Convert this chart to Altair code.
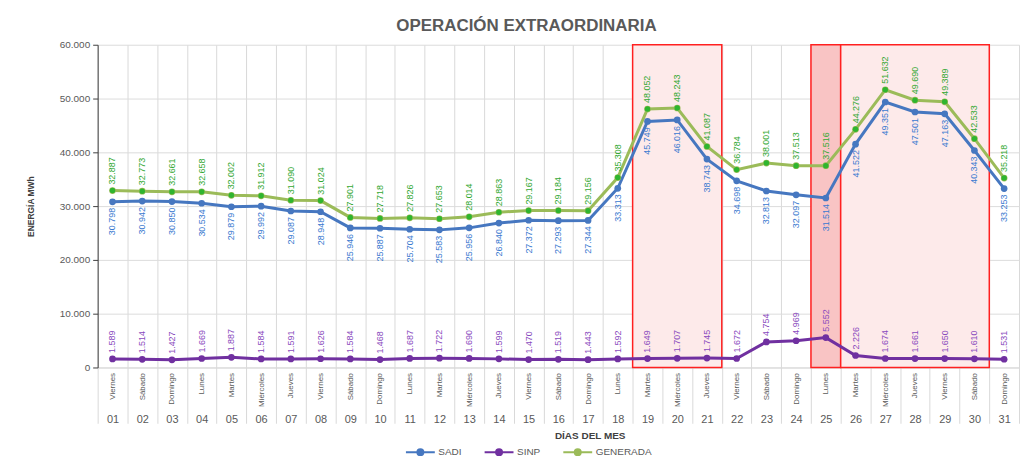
import altair as alt
import pandas as pd

# ---------------- data ----------------
days = list(range(1, 32))
day_names = ["Viernes", "Sábado", "Domingo", "Lunes", "Martes", "Miércoles", "Jueves",
             "Viernes", "Sábado", "Domingo", "Lunes", "Martes", "Miércoles", "Jueves",
             "Viernes", "Sábado", "Domingo", "Lunes", "Martes", "Miércoles", "Jueves",
             "Viernes", "Sábado", "Domingo", "Lunes", "Martes", "Miércoles", "Jueves",
             "Viernes", "Sábado", "Domingo"]
sadi = [30798, 30942, 30850, 30534, 29879, 29992, 29087, 28948, 25946, 25887,
        25704, 25583, 25956, 26840, 27372, 27293, 27344, 33313, 45749, 46016,
        38743, 34698, 32813, 32097, 31514, 41522, 49351, 47501, 47163, 40343, 33253]
sinp = [1589, 1514, 1427, 1669, 1887, 1584, 1591, 1626, 1584, 1468,
        1687, 1722, 1690, 1599, 1470, 1519, 1443, 1592, 1649, 1707,
        1745, 1672, 4754, 4969, 5552, 2226, 1674, 1661, 1650, 1610, 1531]
generada = [32887, 32773, 32661, 32658, 32002, 31912, 31090, 31024, 27901, 27718,
            27826, 27653, 28014, 28863, 29167, 29184, 29156, 35308, 48052, 48243,
            41087, 36784, 38001, 37513, 37516, 44276, 51632, 49690, 49389, 42533, 35218]
series_names = ["SADI", "SINP", "GENERADA"]
hl_start = [19, 25, 26]
hl_end = [21, 25, 30]
hl_kind = ["claro", "oscuro", "claro"]

rows = []
for name, vals in zip(series_names, [sadi, sinp, generada]):
    for d, v in zip(days, vals):
        rows.append({"day": d, "series": name, "value": v,
                     "label": f"{v:,}".replace(",", ".")})
df = pd.DataFrame(rows)
hl = pd.DataFrame({"x0": [s - 0.5 for s in hl_start], "x1": [e + 0.5 for e in hl_end],
                   "kind": hl_kind, "y0": [0] * 3, "y1": [60000] * 3})

REG = "Liberation Sans, Arial, sans-serif"
GREY = "#595959"

XS = alt.Scale(domain=[0.5, 31.5], nice=False, zero=False)
YS = alt.Scale(domain=[0, 60000], nice=False)
YAX = alt.Axis(values=list(range(0, 60001, 10000)),
               labelExpr="replace(format(datum.value, ','), ',', '.')",
               labelFont=REG, labelFontSize=10, labelColor=GREY, labelPadding=3,
               grid=True, gridColor="#dcdcdc", domainColor="#404040", tickColor="#404040",
               tickSize=5, title="ENERGÍA MWh", titleFont=REG, titleFontSize=8.5,
               titleFontWeight="bold", titleColor="#404040", titlePadding=24)

names_expr = "[" + ",".join(f"'{n}'" for n in day_names) + "][datum.value - 1]"

ax_grid = alt.Axis(orient="bottom", values=[d - 0.5 for d in days] + [31.5], grid=True,
                   gridColor="#d9d9d9", ticks=True, tickSize=56, tickColor="#d9d9d9",
                   labels=False, domain=True, domainColor="#d9d9d9", title=None)
ax_names = alt.Axis(orient="bottom", values=days, labelExpr=names_expr, labelAngle=270,
                    labelAlign="right", labelBaseline="middle", labelFont=REG,
                    labelFontSize=8, labelColor=GREY, labelPadding=5, labelOverlap=False,
                    ticks=False, domain=False, grid=False, title=None)
ax_nums = alt.Axis(orient="bottom", values=days,
                   labelExpr="datum.value < 10 ? '0' + datum.value : '' + datum.value",
                   labelFont=REG, labelFontSize=11, labelColor=GREY, labelPadding=2,
                   labelOverlap=False, offset=44, ticks=False, domain=False, grid=False,
                   title="DÍAS DEL MES", titleFont=REG, titleFontSize=10,
                   titleFontWeight="bold", titleColor="#404040", titlePadding=6,
                   titleX=494)

def X(axis=None):
    return alt.X("day:Q", scale=XS, axis=axis)

Yv = alt.Y("value:Q", scale=YS, axis=YAX)

rects = alt.Chart(hl).mark_rect(stroke="#ff2020", strokeWidth=1.5).encode(
    x=alt.X("x0:Q", scale=XS, axis=ax_grid), x2="x1:Q",
    y=alt.Y("y0:Q", scale=YS, axis=YAX), y2="y1:Q",
    fill=alt.Fill("kind:N", scale=alt.Scale(domain=["claro", "oscuro"],
                                            range=["#fdeaea", "#f9c4c4"]), legend=None),
)

line_colors = alt.Scale(domain=series_names, range=["#4677c0", "#7030a0", "#9bbb59"])

legend = alt.Legend(title=None, orient="none", legendX=313, legendY=398, direction="horizontal",
                    symbolType="M-1.45,0H1.45M0.3,0A0.3,0.3,0,1,1,-0.3,0A0.3,0.3,0,1,1,0.3,0Z",
                    symbolSize=400, symbolStrokeWidth=2, labelFont=REG, labelFontSize=10,
                    labelColor=GREY, columnPadding=18, labelOffset=7)

Cenc = alt.Color("series:N", scale=line_colors, legend=legend, sort=series_names)

lines = alt.Chart(df).mark_line(strokeWidth=3).encode(
    x=X(ax_names), y=Yv, color=Cenc, detail="series:N",
)

points = alt.Chart(df).mark_point(filled=True, size=45, opacity=1).encode(
    x=X(ax_nums), y=Yv, color=Cenc,
)

gen_points = alt.Chart(df).transform_filter(alt.datum.series == "GENERADA").mark_point(
    filled=True, size=30, opacity=1, color="#2fb52f").encode(x=X(), y=Yv)

def labels(series, color, align, dx):
    return alt.Chart(df).transform_filter(alt.datum.series == series).mark_text(
        angle=270, align=align, baseline="middle", dx=dx, font=REG, fontSize=9, color=color
    ).encode(x=X(), y=Yv, text="label:N")

chart = alt.layer(
    rects, lines, points, gen_points,
    labels("GENERADA", "#33a833", "left", 6),
    labels("SADI", "#3a7ad0", "right", -6),
    labels("SINP", "#8a4cbe", "left", 6),
).resolve_scale(x="independent", fill="independent").properties(
    width=925, height=324,
    title=alt.TitleParams("OPERACIÓN EXTRAORDINARIA", font=REG, fontSize=17,
                          fontWeight="bold", color=GREY, offset=5, dx=-32),
    padding={"left": 18, "top": 8, "right": 2, "bottom": 0},
).configure_view(stroke=None)

chart.save("out.html", embed_options={"renderer": "svg", "actions": False})
